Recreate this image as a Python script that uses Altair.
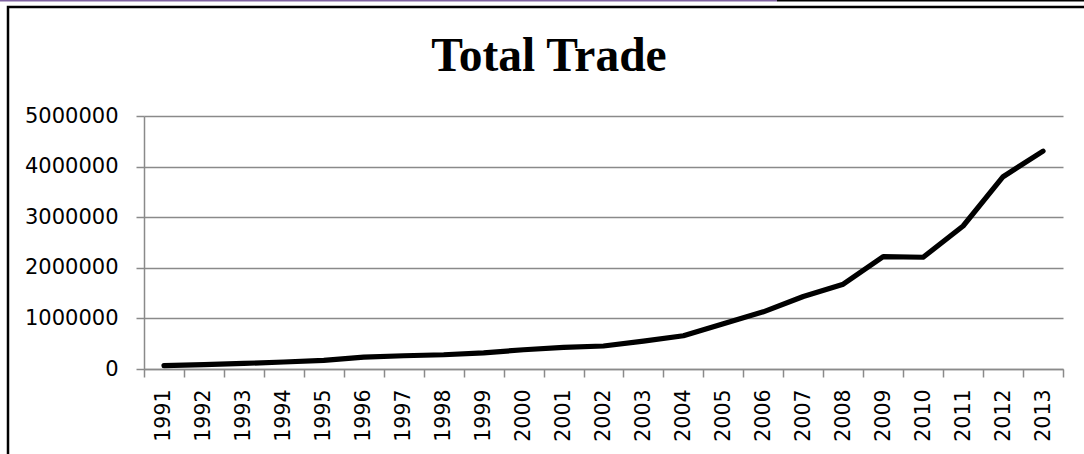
import altair as alt
import pandas as pd

years = [str(y) for y in range(1991, 2014)]
total_trade = [65000, 85000, 110000, 138000, 170000, 236000, 262000, 282000,
               320000, 380000, 427000, 455000, 552000, 657000, 893000, 1130000,
               1432000, 1676000, 2221000, 2209000, 2826000, 3800000, 4305000]
y_ticks = [0, 1000000, 2000000, 3000000, 4000000, 5000000]
title_text = ["Total Trade"]

df = pd.DataFrame({"year": years, "value": total_trade})

W, H = 919, 253
PL, PT, PR, PB = 144, 116, 21, 85
GRAY = "#8a8a8a"

line = alt.Chart(df).mark_line(color="black", strokeWidth=5.2, strokeCap="round", strokeJoin="round").encode(
    x=alt.X("year:O", sort=years,
            scale=alt.Scale(paddingInner=0, paddingOuter=0),
            axis=alt.Axis(title=None, labelAngle=270, labelAlign="right", labelBaseline="middle",
                          labelFont="DejaVu Sans", labelFontSize=20.5, labelColor="black",
                          labelPadding=12, tickBand="extent", tickSize=8, tickColor=GRAY,
                          tickWidth=1.5, domainColor=GRAY, domainWidth=1.5, grid=False)),
    y=alt.Y("value:Q", scale=alt.Scale(domain=[0, 5000000], nice=False),
            axis=alt.Axis(title=None, values=y_ticks, format="d", labelFont="DejaVu Sans",
                          labelFontSize=21, labelColor="black", labelPadding=18,
                          tickSize=8, tickColor=GRAY, tickWidth=1.5, domainColor=GRAY,
                          domainWidth=1.5, grid=True, gridColor=GRAY, gridWidth=1.5)),
)

frame_data = alt.Data(values=[{"k": 1}])
frame = alt.Chart(frame_data).mark_rect(fill=None, stroke="black", strokeWidth=2.5).encode(
    x=alt.value(8 - PL), x2=alt.value(1200 - PL),
    y=alt.value(7 - PT), y2=alt.value(600 - PT),
)
top_purple = alt.Chart(frame_data).mark_rule(color="#8064a2", strokeWidth=2).encode(
    x=alt.value(0 - PL), x2=alt.value(777 - PL), y=alt.value(0.5 - PT)
)
top_black = alt.Chart(frame_data).mark_rule(color="black", strokeWidth=2).encode(
    x=alt.value(777 - PL), x2=alt.value(1084 - PL), y=alt.value(0.5 - PT)
)
title = alt.Chart(alt.Data(values=[{"t": t} for t in title_text])).mark_text(
    font="Liberation Serif", fontSize=47.5, fontWeight="bold", color="black",
    align="center", baseline="alphabetic"
).encode(text="t:N", x=alt.value(549 - PL), y=alt.value(71 - PT))

chart = alt.layer(line, frame, top_purple, top_black, title).properties(
    width=W, height=H,
    autosize=alt.AutoSizeParams(type="none"),
    padding={"left": PL, "top": PT, "right": PR, "bottom": PB},
    background="white",
).configure_view(stroke=None)

chart.save("out.html", embed_options={"renderer": "svg", "actions": False})
